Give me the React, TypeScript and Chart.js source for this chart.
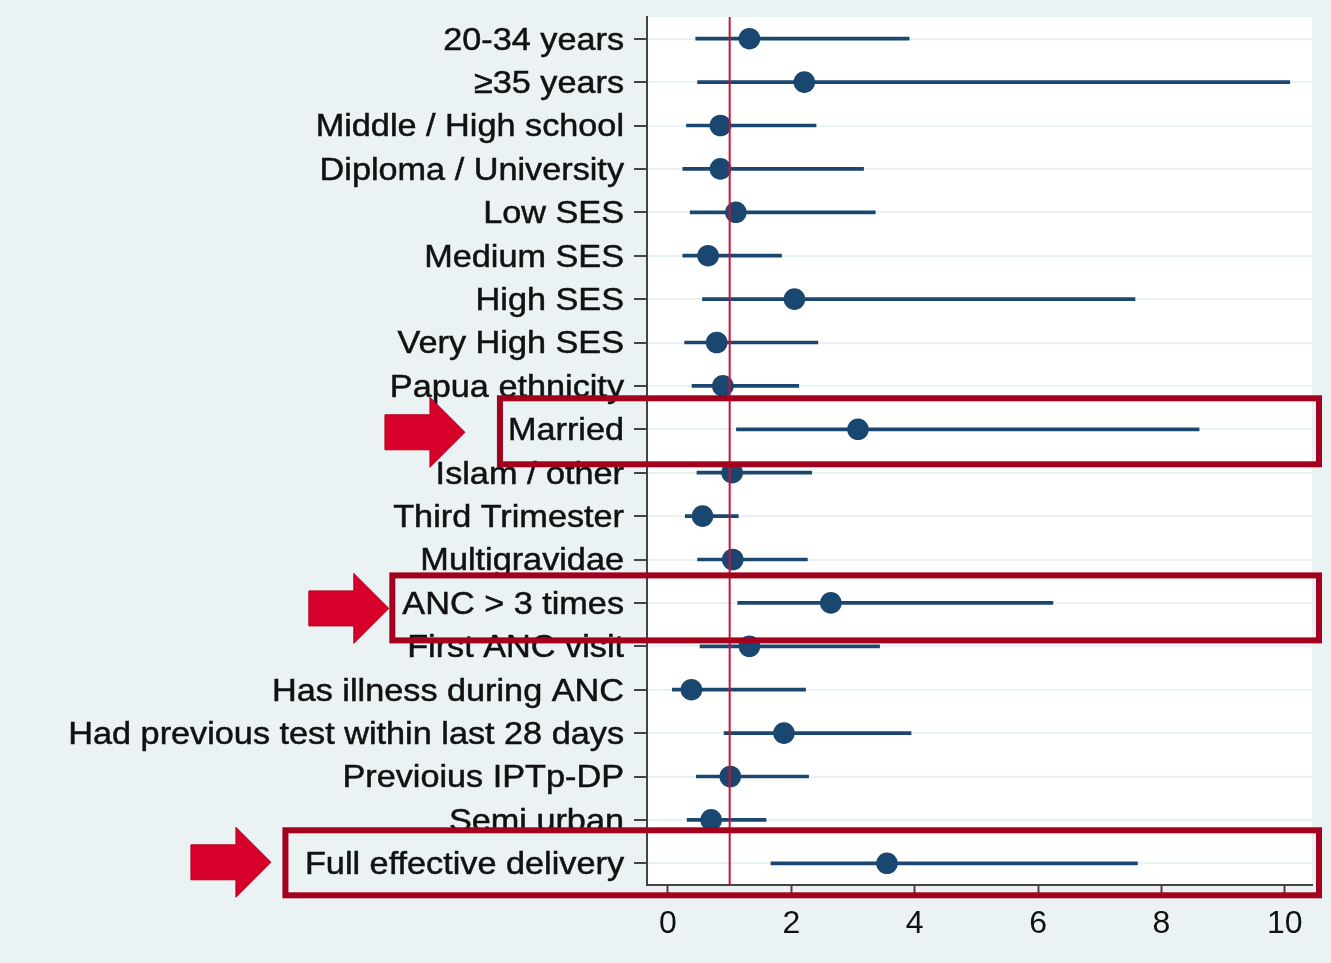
import React, { useEffect, useRef } from "react";
import { Chart, registerables } from "chart.js";

Chart.register(...registerables);

// Covariates, top to bottom
const factors: string[] = [
  "20-34 years",
  "≥35 years",
  "Middle / High school",
  "Diploma / University",
  "Low SES",
  "Medium SES",
  "High SES",
  "Very High SES",
  "Papua ethnicity",
  "Married",
  "Islam / other",
  "Third Trimester",
  "Multigravidae",
  "ANC > 3 times",
  "First ANC visit",
  "Has illness during ANC",
  "Had previous test within last 28 days",
  "Previoius IPTp-DP",
  "Semi urban",
  "Full effective delivery",
];

// Adjusted odds ratios and 95% confidence bounds
const oddsRatio: number[] = [1.32, 2.21, 0.85, 0.85, 1.1, 0.65, 2.05, 0.79, 0.89, 3.08, 1.04, 0.56, 1.05, 2.64, 1.32, 0.38, 1.88, 1.01, 0.7, 3.55];
const ciLower: number[] = [0.45, 0.48, 0.3, 0.24, 0.36, 0.24, 0.56, 0.27, 0.39, 1.11, 0.47, 0.28, 0.48, 1.13, 0.52, 0.07, 0.91, 0.46, 0.31, 1.67];
const ciUpper: number[] = [3.91, 10.08, 2.4, 3.17, 3.36, 1.84, 7.57, 2.43, 2.12, 8.61, 2.33, 1.14, 2.26, 6.24, 3.43, 2.23, 3.94, 2.28, 1.59, 7.61];

const xTicks: number[] = [0, 2, 4, 6, 8, 10];
const referenceValue = 1;

// Rows called out with a frame and an arrow
const highlighted: string[] = ["Married", "ANC > 3 times", "Full effective delivery"];

// Frame / arrow styling for each called-out row
const calloutStyle = [
  { padLeft: 8, above: 31, below: 35, arrowGap: 35, arrowDy: 3 },
  { padLeft: 10, above: 27.5, below: 37.5, arrowGap: 3.5, arrowDy: 5.5 },
  { padLeft: 19.5, above: 33, below: 32, arrowGap: 14.5, arrowDy: -1 },
];

const FONT = "'Liberation Sans', Arial, Helvetica, sans-serif";
const NAVY = "#1a476f";
const PAGE_BG = "#eaf2f3";
const Y_TICK_LEN = 13;
const Y_TICK_PAD = 10;
const Y_FONT = `32px ${FONT}`;
const Y_STRETCH = 1.07;

const backgroundPlugin = {
  id: "panelBackground",
  beforeDraw(chart: any) {
    const { ctx, chartArea, width, height } = chart;
    ctx.save();
    ctx.fillStyle = PAGE_BG;
    ctx.fillRect(0, 0, width, height);
    ctx.fillStyle = "#ffffff";
    ctx.fillRect(chartArea.left, chartArea.top, chartArea.right - chartArea.left, chartArea.bottom - chartArea.top);
    ctx.restore();
  },
};

// Category names, set in a slightly wide Helvetica-like face
const categoryLabelPlugin = {
  id: "categoryLabels",
  afterDraw(chart: any) {
    const { ctx, scales } = chart;
    const yScale = scales.y;
    const right = yScale.right - Y_TICK_LEN - Y_TICK_PAD;
    ctx.save();
    ctx.font = Y_FONT;
    ctx.fillStyle = "#111111";
    ctx.strokeStyle = "#111111";
    ctx.lineWidth = 0.5;
    ctx.textAlign = "right";
    ctx.textBaseline = "middle";
    factors.forEach((label, i) => {
      const y = yScale.getPixelForValue(i) + 2;
      ctx.save();
      ctx.translate(right, y);
      ctx.scale(Y_STRETCH, 1);
      ctx.fillText(label, 0, 0);
      ctx.strokeText(label, 0, 0);
      ctx.restore();
    });
    ctx.restore();
  },
};

const referenceLinePlugin = {
  id: "referenceLine",
  afterDatasetsDraw(chart: any) {
    const { ctx, chartArea, scales } = chart;
    const x = scales.x.getPixelForValue(referenceValue);
    ctx.save();
    ctx.strokeStyle = "#cc1236";
    ctx.lineWidth = 2;
    ctx.beginPath();
    ctx.moveTo(x, chartArea.top);
    ctx.lineTo(x, chartArea.bottom);
    ctx.stroke();
    ctx.restore();
  },
};

const calloutPlugin = {
  id: "callouts",
  afterDraw(chart: any) {
    const { ctx, chartArea, scales } = chart;
    const yScale = scales.y;
    const labelRight = yScale.right - Y_TICK_LEN - Y_TICK_PAD;
    ctx.save();
    ctx.font = Y_FONT;
    highlighted.forEach((label, i) => {
      const st = calloutStyle[i];
      const idx = factors.indexOf(label);
      const yc = yScale.getPixelForValue(idx);
      const textLeft = labelRight - ctx.measureText(label).width * Y_STRETCH;
      const left = textLeft - st.padLeft;
      const right = chartArea.right + 7;
      const top = yc - st.above;
      const bottom = yc + st.below;

      // frame
      ctx.strokeStyle = "#a3001e";
      ctx.lineWidth = 6;
      ctx.strokeRect(left, top, right - left, bottom - top);

      // block arrow pointing at the frame
      const tipX = left - st.arrowGap;
      const tipY = yc + st.arrowDy;
      const headLen = 35;
      const totalLen = 80;
      const headHalf = 35;
      const shaftHalf = 17.5;
      ctx.beginPath();
      ctx.moveTo(tipX, tipY);
      ctx.lineTo(tipX - headLen, tipY - headHalf);
      ctx.lineTo(tipX - headLen, tipY - shaftHalf);
      ctx.lineTo(tipX - totalLen, tipY - shaftHalf);
      ctx.lineTo(tipX - totalLen, tipY + shaftHalf);
      ctx.lineTo(tipX - headLen, tipY + shaftHalf);
      ctx.lineTo(tipX - headLen, tipY + headHalf);
      ctx.closePath();
      ctx.fillStyle = "#d6002b";
      ctx.fill();
      ctx.strokeStyle = "#b5001f";
      ctx.lineWidth = 1;
      ctx.stroke();
    });
    ctx.restore();
  },
};

export default function App() {
  const canvasRef = useRef<HTMLCanvasElement | null>(null);

  useEffect(() => {
    if (!canvasRef.current) return;
    const chart = new Chart(canvasRef.current, {
      type: "bar",
      data: {
        labels: factors,
        datasets: [
          {
            type: "bar",
            label: "95% CI",
            indexAxis: "y",
            data: factors.map((_, i) => [ciLower[i], ciUpper[i]]),
            backgroundColor: NAVY,
            borderWidth: 0,
            barThickness: 3,
            order: 2,
          } as any,
          {
            type: "line",
            label: "Odds ratio",
            indexAxis: "y",
            data: oddsRatio,
            showLine: false,
            pointRadius: 10.8,
            pointHoverRadius: 10.8,
            pointBackgroundColor: NAVY,
            pointBorderWidth: 0,
            order: 1,
          } as any,
        ],
      },
      options: {
        indexAxis: "y",
        animation: false,
        responsive: true,
        maintainAspectRatio: false,
        layout: { padding: { top: 17, right: 19, left: 0, bottom: 0 } },
        plugins: {
          legend: { display: false },
          tooltip: { enabled: false },
        },
        scales: {
          x: {
            type: "linear",
            position: "bottom",
            min: -0.34,
            max: 10.44,
            afterFit: (scale: any) => {
              scale.height = 78;
            },
            afterBuildTicks: (scale: any) => {
              scale.ticks = xTicks.map((v) => ({ value: v }));
            },
            ticks: {
              includeBounds: false,
              stepSize: 2,
              color: "#111111",
              padding: 10,
              font: { family: FONT, size: 32 },
            },
            grid: {
              drawOnChartArea: false,
              drawTicks: true,
              tickLength: 10,
              tickColor: "#444444",
              tickWidth: 2,
            },
            border: { display: true, color: "#444444", width: 2 },
          },
          y: {
            type: "category",
            position: "left",
            offset: true,
            afterFit: (scale: any) => {
              scale.width = 647;
            },
            ticks: {
              display: false,
              autoSkip: false,
            },
            grid: {
              offset: false,
              color: PAGE_BG,
              lineWidth: 2,
              drawTicks: true,
              tickLength: Y_TICK_LEN,
              tickColor: "#444444",
              tickWidth: 2,
            },
            border: { display: true, color: "#444444", width: 2 },
          },
        },
      } as any,
      plugins: [backgroundPlugin, referenceLinePlugin, categoryLabelPlugin, calloutPlugin],
    });
    return () => chart.destroy();
  }, []);

  return (
    <div
      style={{
        position: "fixed",
        left: 0,
        top: 0,
        width: 1331,
        height: 963,
        background: PAGE_BG,
      }}
    >
      <canvas ref={canvasRef} />
    </div>
  );
}
